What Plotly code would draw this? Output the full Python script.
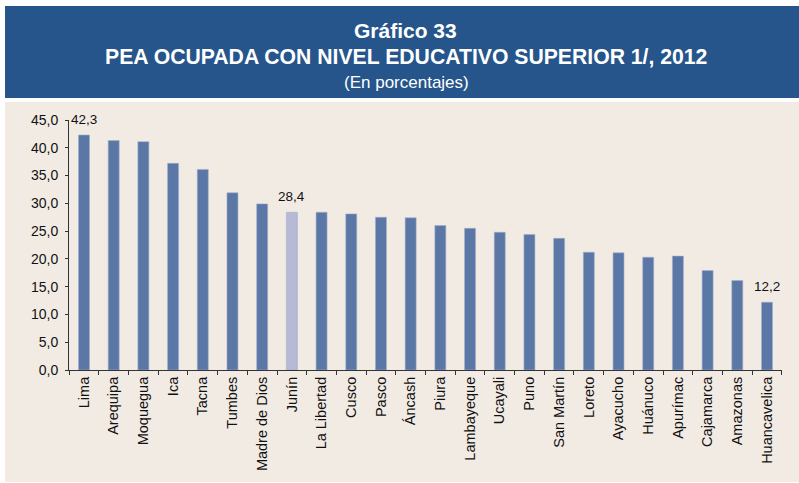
import plotly.graph_objects as go

regions = ["Lima", "Arequipa", "Moquegua", "Ica", "Tacna", "Tumbes", "Madre de Dios",
           "Junín", "La Libertad", "Cusco", "Pasco", "Áncash", "Piura", "Lambayeque",
           "Ucayali", "Puno", "San Martín", "Loreto", "Ayacucho", "Huánuco", "Apurímac",
           "Cajamarca", "Amazonas", "Huancavelica"]
values = [42.3, 41.3, 41.1, 37.2, 36.1, 31.9, 29.9, 28.4, 28.4, 28.1, 27.5, 27.4, 26.0, 25.5,
          24.8, 24.4, 23.7, 21.2, 21.1, 20.3, 20.5, 17.9, 16.1, 12.2]
labelled = ["Lima", "Junín", "Huancavelica"]
highlight = "Junín"
y_ticks = [0, 5, 10, 15, 20, 25, 30, 35, 40, 45]

W, H = 799, 483
L, R, T, B = 69, 782, 120, 370  # plot area in pixels


def px_x(p):
    return (p - L) / (R - L)


def px_y(p):
    return (B - p) / (B - T)


bar_colors = ["#B8BAD5" if r == highlight else "#5B77A6" for r in regions]

FONT = "Liberation Sans, Arial, sans-serif"

fig = go.Figure(go.Bar(
    x=regions, y=values,
    marker=dict(color=bar_colors, line=dict(color="#9FB0CC", width=0.6)),
    hoverinfo="x+y",
))

value_labels = [
    dict(text=f"{v:.1f}".replace(".", ","), x=r, y=v, xref="x", yref="y",
         showarrow=False, yanchor="bottom", xanchor="center", yshift=6,
         font=dict(family=FONT, size=13.5, color="#111111"))
    for r, v in zip(regions, values) if r in labelled
]

fig.update_layout(
    width=W, height=H,
    margin=dict(l=L, r=W - R, t=T, b=H - B, pad=0, autoexpand=False),
    paper_bgcolor="white", plot_bgcolor="rgba(0,0,0,0)",
    separators=",.",
    bargap=0.63,
    showlegend=False,
    font=dict(family=FONT, color="#111111"),
    shapes=[
        dict(type="rect", xref="paper", yref="paper", layer="below",
             x0=px_x(5), x1=px_x(800), y0=px_y(98), y1=px_y(6),
             fillcolor="#25558A", line=dict(width=0)),
        dict(type="rect", xref="paper", yref="paper", layer="below",
             x0=px_x(5), x1=px_x(800), y0=px_y(482), y1=px_y(102),
             fillcolor="#F2EBE4", line=dict(width=0)),
    ],
    annotations=[
        dict(text="<b>Gráfico 33</b>", xref="paper", yref="paper", x=px_x(405), y=px_y(31),
             showarrow=False, font=dict(family=FONT, size=21, color="white"),
             xanchor="center", yanchor="middle"),
        dict(text="<b>PEA OCUPADA CON NIVEL EDUCATIVO SUPERIOR 1/, 2012</b>", xref="paper",
             yref="paper", x=px_x(405.5), y=px_y(56.5), showarrow=False,
             font=dict(family=FONT, size=21.2, color="white"), xanchor="center", yanchor="middle"),
        dict(text="(En porcentajes)", xref="paper", yref="paper", x=px_x(406), y=px_y(82),
             showarrow=False, font=dict(family=FONT, size=17, color="white"),
             xanchor="center", yanchor="middle"),
    ] + value_labels,
)

fig.update_yaxes(
    range=[0, 45], tickvals=y_ticks, tickformat=".1f",
    showgrid=False, zeroline=False,
    showline=True, linecolor="#333333", linewidth=1,
    ticks="outside", ticklen=3, tickcolor="#333333",
    tickfont=dict(family=FONT, size=14, color="#111111"),
    ticklabelstandoff=4,
)
fig.update_xaxes(
    tickangle=-90, tickson="boundaries",
    showgrid=False, showline=True, linecolor="#333333", linewidth=1,
    ticks="outside", ticklen=4, tickcolor="#333333",
    tickfont=dict(family=FONT, size=14.5, color="#111111"),
)

fig.write_html("out.html", config={"displayModeBar": False},
               post_script="document.body.style.margin='0';")
